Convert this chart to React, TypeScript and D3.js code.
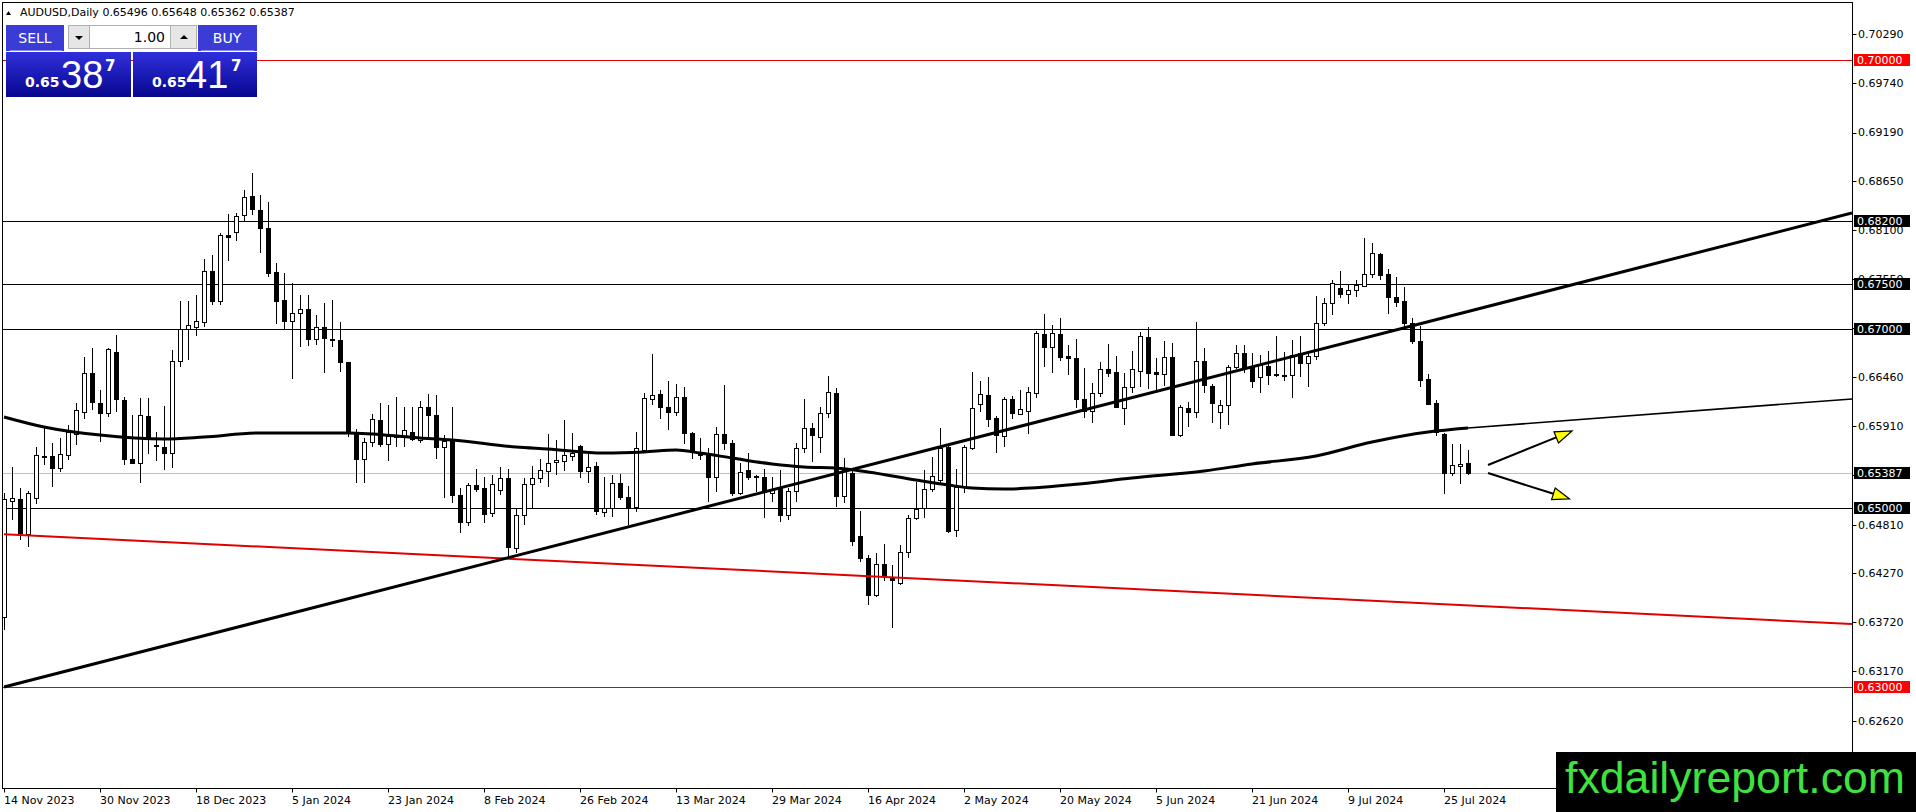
import React from "react";
import { scaleLinear, line, curveMonotoneX } from "d3";

// daily candles, 14 Nov 2023 .. 30 Jul 2024
const opens = [
  0.63782, 0.65071, 0.65093, 0.64706, 0.65104, 0.65575, 0.65577, 0.65439, 0.65585, 0.65823,
  0.66072, 0.665, 0.66173, 0.66061, 0.66735, 0.66202, 0.6554, 0.65503, 0.66024, 0.65696,
  0.65681, 0.65614, 0.66634, 0.66992, 0.67022, 0.67074, 0.67643, 0.67312, 0.6804, 0.68083,
  0.68269, 0.68481, 0.68325, 0.6812, 0.67628, 0.67319, 0.67081, 0.6717, 0.67215, 0.6688,
  0.67014, 0.66888, 0.66873, 0.66623, 0.65849, 0.6554, 0.65737, 0.65979, 0.65711, 0.65804,
  0.65793, 0.65849, 0.65756, 0.6612, 0.66035, 0.65674, 0.65756, 0.65141, 0.64844, 0.65253,
  0.65216, 0.64937, 0.65197, 0.65328, 0.64546, 0.64918, 0.65264, 0.65328, 0.65413, 0.65506,
  0.65525, 0.65581, 0.65689, 0.65413, 0.65465, 0.64955, 0.64992, 0.65279, 0.65115, 0.65011,
  0.65644, 0.6621, 0.6627, 0.66128, 0.66072, 0.66232, 0.65838, 0.65607, 0.65588, 0.65339,
  0.65823, 0.65718, 0.65167, 0.65421, 0.6535, 0.65339, 0.6516, 0.65216, 0.64918, 0.6519,
  0.65662, 0.65886, 0.65793, 0.66054, 0.66284, 0.6513, 0.65391, 0.64684, 0.64434, 0.64024,
  0.64367, 0.64211, 0.64155, 0.64509, 0.64881, 0.64992, 0.65205, 0.65309, 0.65681, 0.6475,
  0.65234, 0.65662, 0.66158, 0.66258, 0.65998, 0.658, 0.6621, 0.66046, 0.66083, 0.66277,
  0.6694, 0.66791, 0.6694, 0.6669, 0.66668, 0.6621, 0.66083, 0.66277, 0.66545, 0.66519,
  0.66109, 0.66344, 0.6653, 0.66902, 0.66519, 0.66493, 0.66679, 0.65812, 0.66109, 0.66072,
  0.66642, 0.66359, 0.66072, 0.66147, 0.66575, 0.66731, 0.66567, 0.66456, 0.66582, 0.66489,
  0.66482, 0.66482, 0.66731, 0.66612, 0.66694, 0.67066, 0.67282, 0.6745, 0.67386, 0.67431,
  0.67476, 0.6761, 0.67833, 0.6761, 0.67349, 0.67312, 0.67066, 0.66865, 0.66433, 0.66165,
  0.65823, 0.65391, 0.65465, 0.65496,
];
const highs = [
  0.6516, 0.65458, 0.65216, 0.65186, 0.65681, 0.65905, 0.65718, 0.65774, 0.65923, 0.66165,
  0.66686, 0.6678, 0.66314, 0.6678, 0.66929, 0.6624, 0.6603, 0.66221, 0.66221, 0.65849,
  0.66135, 0.66761, 0.67312, 0.67312, 0.67375, 0.67774, 0.67822, 0.68071, 0.6828, 0.68295,
  0.68548, 0.68734, 0.68492, 0.68418, 0.67736, 0.67617, 0.67506, 0.67375, 0.67375, 0.67152,
  0.67282, 0.67319, 0.6707, 0.66631, 0.65875, 0.65774, 0.66046, 0.66165, 0.66147, 0.66232,
  0.66128, 0.66128, 0.66195, 0.66266, 0.66258, 0.65812, 0.66128, 0.65223, 0.65279, 0.65428,
  0.65339, 0.65365, 0.6545, 0.65428, 0.64981, 0.65328, 0.65465, 0.6554, 0.65823, 0.65756,
  0.65979, 0.65838, 0.657, 0.65614, 0.65514, 0.65346, 0.65365, 0.65376, 0.65242, 0.65849,
  0.66277, 0.66716, 0.66314, 0.66418, 0.66381, 0.66344, 0.65849, 0.65774, 0.65663, 0.65905,
  0.6637, 0.65756, 0.65495, 0.65614, 0.65365, 0.65428, 0.65346, 0.65421, 0.65216, 0.65718,
  0.6621, 0.65942, 0.66121, 0.6647, 0.66333, 0.65551, 0.65439, 0.64966, 0.64471, 0.6449,
  0.64594, 0.6436, 0.64583, 0.64918, 0.6529, 0.65421, 0.65562, 0.65886, 0.65711, 0.65428,
  0.657, 0.66519, 0.66418, 0.66456, 0.66024, 0.6624, 0.66247, 0.66314, 0.66344, 0.66977,
  0.67163, 0.6704, 0.67115, 0.66817, 0.6688, 0.66556, 0.66389, 0.66631, 0.66828, 0.66694,
  0.665, 0.66753, 0.66966, 0.67021, 0.66668, 0.66865, 0.66843, 0.66147, 0.66184, 0.6707,
  0.6678, 0.66381, 0.66202, 0.66593, 0.66817, 0.66817, 0.66724, 0.66705, 0.66753, 0.66917,
  0.66742, 0.66873, 0.66917, 0.66742, 0.67364, 0.67338, 0.67543, 0.67647, 0.67487, 0.67543,
  0.68008, 0.6796, 0.67848, 0.67662, 0.67573, 0.67461, 0.67115, 0.67029, 0.66493, 0.66203,
  0.6583, 0.65711, 0.65711, 0.65648,
];
const lows = [
  0.63633, 0.64862, 0.64639, 0.64557, 0.65037, 0.65476, 0.65235, 0.65402, 0.65532, 0.657,
  0.65987, 0.66091, 0.65737, 0.66016, 0.66072, 0.65476, 0.65488, 0.65279, 0.65599, 0.65525,
  0.65421, 0.65439, 0.66575, 0.66649, 0.66917, 0.67022, 0.67264, 0.67264, 0.67759, 0.67982,
  0.68205, 0.68269, 0.67841, 0.6758, 0.67048, 0.66992, 0.66433, 0.66798, 0.66806, 0.66817,
  0.665, 0.66798, 0.66519, 0.65793, 0.65272, 0.65279, 0.65681, 0.65681, 0.65525, 0.65681,
  0.65681, 0.65748, 0.65726, 0.65774, 0.6554, 0.65104, 0.65048, 0.64713, 0.64795, 0.65179,
  0.64832, 0.64899, 0.65141, 0.64453, 0.64497, 0.64806, 0.64992, 0.65279, 0.65234, 0.65365,
  0.65413, 0.65525, 0.65328, 0.65279, 0.64918, 0.64892, 0.64892, 0.65086, 0.64806, 0.64955,
  0.65625, 0.66147, 0.65987, 0.65867, 0.66024, 0.65711, 0.6554, 0.65532, 0.65067, 0.65179,
  0.65644, 0.6513, 0.65142, 0.65309, 0.65179, 0.64881, 0.65067, 0.64844, 0.64862, 0.65067,
  0.65614, 0.65514, 0.65614, 0.65998, 0.65011, 0.65048, 0.64572, 0.64397, 0.63913, 0.64006,
  0.64185, 0.63652, 0.64136, 0.64434, 0.64862, 0.64881, 0.65179, 0.65279, 0.64721, 0.64676,
  0.65167, 0.65644, 0.66072, 0.65897, 0.65607, 0.65681, 0.65987, 0.66035, 0.65823, 0.66221,
  0.66567, 0.66508, 0.66642, 0.66482, 0.66109, 0.65998, 0.65949, 0.6624, 0.66456, 0.66109,
  0.65923, 0.66284, 0.66351, 0.66322, 0.66314, 0.66359, 0.658, 0.65785, 0.65905, 0.65998,
  0.66284, 0.65942, 0.65875, 0.65924, 0.66545, 0.665, 0.66333, 0.66284, 0.6637, 0.66456,
  0.66418, 0.66221, 0.66463, 0.66351, 0.66649, 0.67029, 0.67152, 0.67338, 0.67275, 0.67349,
  0.67468, 0.67561, 0.67543, 0.67163, 0.67238, 0.67014, 0.66828, 0.66351, 0.66147, 0.658,
  0.65153, 0.65354, 0.65264, 0.65362,
];
const closes = [
  0.65093, 0.65104, 0.64713, 0.6516, 0.65585, 0.65582, 0.65439, 0.65595, 0.65849, 0.66091,
  0.665, 0.66184, 0.66061, 0.66768, 0.6621, 0.6554, 0.65503, 0.66031, 0.65775, 0.65685,
  0.65614, 0.66638, 0.66992, 0.67036, 0.67081, 0.67643, 0.67312, 0.68042, 0.68026, 0.68258,
  0.68474, 0.68332, 0.6812, 0.67625, 0.67312, 0.67081, 0.6717, 0.67215, 0.6688, 0.67014,
  0.66891, 0.6688, 0.66623, 0.6583, 0.6554, 0.65737, 0.65986, 0.65711, 0.658, 0.65797,
  0.65867, 0.65763, 0.6612, 0.66035, 0.65681, 0.65745, 0.65141, 0.64844, 0.65253, 0.65209,
  0.64926, 0.65264, 0.65328, 0.64557, 0.64918, 0.65264, 0.65328, 0.65421, 0.65503, 0.65532,
  0.65588, 0.65614, 0.65413, 0.65458, 0.64966, 0.64992, 0.65272, 0.65115, 0.65011, 0.65663,
  0.66221, 0.66258, 0.66128, 0.66072, 0.66232, 0.65838, 0.65625, 0.65592, 0.65339, 0.65823,
  0.65718, 0.65167, 0.65402, 0.65346, 0.65342, 0.65179, 0.65197, 0.64918, 0.6519, 0.65662,
  0.65886, 0.65812, 0.66054, 0.66295, 0.6513, 0.65439, 0.64632, 0.64434, 0.64024, 0.64367,
  0.64237, 0.64188, 0.64509, 0.64881, 0.64981, 0.65205, 0.65354, 0.65662, 0.64743, 0.65234,
  0.65674, 0.66109, 0.66266, 0.65987, 0.65812, 0.6621, 0.66054, 0.66098, 0.66296, 0.66954,
  0.66791, 0.66947, 0.66686, 0.66668, 0.6621, 0.66083, 0.66284, 0.66545, 0.665, 0.66121,
  0.66344, 0.66545, 0.66917, 0.66508, 0.66493, 0.66679, 0.65812, 0.66121, 0.66072, 0.66642,
  0.6637, 0.66165, 0.66147, 0.66575, 0.66731, 0.66567, 0.66418, 0.66593, 0.66482, 0.66482,
  0.66474, 0.66705, 0.66612, 0.66694, 0.67066, 0.67282, 0.67506, 0.67386, 0.67431, 0.67487,
  0.6761, 0.67848, 0.67599, 0.67349, 0.67301, 0.67066, 0.66865, 0.66426, 0.66158, 0.65849,
  0.65391, 0.65477, 0.65488, 0.65387,
];

// bottom axis, one label every 12 bars
const dateLabels = [
  "14 Nov 2023", "30 Nov 2023", "18 Dec 2023", "5 Jan 2024", "23 Jan 2024", "8 Feb 2024",
  "26 Feb 2024", "13 Mar 2024", "29 Mar 2024", "16 Apr 2024", "2 May 2024", "20 May 2024",
  "5 Jun 2024", "21 Jun 2024", "9 Jul 2024", "25 Jul 2024",
];
const LABEL_STEP = 12;

const priceTicks = [
  0.7029, 0.6974, 0.6919, 0.6865, 0.681, 0.6755, 0.6701, 0.6646, 0.6591, 0.6536, 0.6481,
  0.6427, 0.6372, 0.6317, 0.6262,
];

// horizontal levels drawn on the chart
const levelPrices = [0.7, 0.682, 0.675, 0.67, 0.65, 0.63];
const levelColors = ["#e00000", "#000", "#000", "#000", "#000", "#e00000"];
const bid = 0.65387;
const ask = 0.65417;

// moving average (bar index, value)
const maIdx = [0, 5, 12, 20, 25, 32, 43, 52, 56, 64, 68, 75, 80, 84, 87, 91, 96, 100, 104, 108, 114, 118, 121, 125, 127, 134, 141, 150, 156, 164, 171, 178, 183];
const maVal = [
  0.66013, 0.65901, 0.65811, 0.65767, 0.65789, 0.65834, 0.65834, 0.65778, 0.65756, 0.65677,
  0.65655, 0.6561, 0.65622, 0.65644, 0.6561, 0.65555, 0.65488, 0.65454, 0.65443, 0.65398,
  0.65309, 0.65253, 0.65219, 0.65208, 0.65213, 0.65261, 0.65331, 0.65409, 0.65488, 0.65577,
  0.65733, 0.65845, 0.6589,
];

// drawn trend lines: [bar index, price] anchors
const trendUp = [[0, 0.62997], [231, 0.68291]];
const trendRed = [[0, 0.64704], [231, 0.637]];
const trendThin = [[183, 0.6589], [231, 0.66214]];
const arrowUp = [[185.5, 0.65476], [196, 0.65856]];
const arrowDown = [[185.5, 0.65387], [195.7, 0.65097]];

const W = 1916;
const H = 812;
const L = 2.5;
const T = 2.5;
const R = 1852.5;
const B = 788.5;
const FONT = "'DejaVu Sans', Verdana, sans-serif";

const xs = scaleLinear().domain([0, 183]).range([4, 1468]);
const ys = scaleLinear().domain([0.63, 0.7]).range([686.7, 60]);

const fmt = (v: number) => v.toFixed(5);

const TrendLine = ({ pts, color, width }: { pts: number[][]; color: string; width: number }) => {
  const [a, b] = pts;
  const x1 = xs(a[0]);
  const y1 = ys(a[1]);
  const x2 = xs(b[0]);
  const y2 = ys(b[1]);
  return <line x1={x1} y1={y1} x2={x2} y2={y2} stroke={color} strokeWidth={width} />;
};

const Arrow = ({ pts }: { pts: number[][] }) => {
  const [a, b] = pts;
  const x1 = xs(a[0]);
  const y1 = ys(a[1]);
  const x2 = xs(b[0]);
  const y2 = ys(b[1]);
  const ang = Math.atan2(y2 - y1, x2 - x1);
  const len = 17;
  const half = 6;
  const bx = x2 - len * Math.cos(ang);
  const by = y2 - len * Math.sin(ang);
  const px = -Math.sin(ang) * half;
  const py = Math.cos(ang) * half;
  return (
    <g>
      <line x1={x1} y1={y1} x2={bx} y2={by} stroke="#000" strokeWidth={2} />
      <polygon
        points={`${x2},${y2} ${bx + px},${by + py} ${bx - px},${by - py}`}
        fill="#ffff00"
        stroke="#000"
        strokeWidth={1.2}
      />
    </g>
  );
};

const TradePanel = () => {
  const sell = fmt(bid);
  const buy = fmt(ask);
  const parts = (s: string) => [s.slice(0, 4), s.slice(4, 6), s.slice(6)];
  const [s1, s2, s3] = parts(sell);
  const [b1, b2, b3] = parts(buy);
  return (
    <g fontFamily={FONT}>
      <defs>
        <linearGradient id="btn" x1="0" y1="0" x2="0" y2="1">
          <stop offset="0" stopColor="#3030dc" />
          <stop offset="1" stopColor="#06068e" />
        </linearGradient>
      </defs>
      <rect x={6} y={25} width={58} height={26} fill="#3b3bd6" />
      <line x1={10} x2={62} y1={50.5} y2={50.5} stroke="#8a8ae8" />
      <text x={35} y={43} fill="#fff" fontSize={14} textAnchor="middle">SELL</text>
      <rect x={68.5} y={25.5} width={21} height={23} fill="#e6e6e6" stroke="#b0b0b0" />
      <polygon points="75,36 83,36 79,40" fill="#000" />
      <rect x={89.5} y={25.5} width={81} height={23} fill="#fff" stroke="#b0b0b0" />
      <text x={165} y={42} fontSize={14} textAnchor="end" fill="#000">1.00</text>
      <rect x={170.5} y={25.5} width={26} height={23} fill="#e6e6e6" stroke="#b0b0b0" />
      <polygon points="180,39 188,39 184,35" fill="#000" />
      <rect x={198} y={25} width={59} height={26} fill="#3b3bd6" />
      <line x1={201} x2={254} y1={50.5} y2={50.5} stroke="#8a8ae8" />
      <text x={227} y={43} fill="#fff" fontSize={14} textAnchor="middle">BUY</text>

      <rect x={6} y={52} width={125} height={45} fill="url(#btn)" />
      <rect x={133} y={52} width={124} height={45} fill="url(#btn)" />
      <text x={25} y={87} fill="#fff" fontSize={14} fontWeight="bold">{s1}</text>
      <text x={61} y={88} fill="#fff" fontSize={38} fontFamily="'Liberation Sans', Arial, sans-serif">{s2}</text>
      <text x={105} y={71} fill="#fff" fontSize={15} fontWeight="bold">{s3}</text>
      <text x={152} y={87} fill="#fff" fontSize={14} fontWeight="bold">{b1}</text>
      <text x={186} y={88} fill="#fff" fontSize={38} fontFamily="'Liberation Sans', Arial, sans-serif">{b2}</text>
      <text x={231} y={71} fill="#fff" fontSize={15} fontWeight="bold">{b3}</text>
    </g>
  );
};

const App = () => {
  const last = opens.length - 1;
  const maLine = line<number>()
    .x((_, i) => xs(maIdx[i]))
    .y((v) => ys(v))
    .curve(curveMonotoneX);
  const labelled = [bid, ...levelPrices];
  const labelColor = (p: number) => (p === 0.7 || p === 0.63 ? "#ff0000" : "#000");

  return (
    <svg
      width={W}
      height={H}
      style={{ position: "absolute", left: 0, top: 0, display: "block", background: "#fff" }}
    >
      <defs>
        <clipPath id="plot">
          <rect x={L + 0.5} y={T + 0.5} width={R - L - 1} height={B - T - 1} />
        </clipPath>
      </defs>
      <rect width={W} height={H} fill="#fff" />

      <g clipPath="url(#plot)">
        {/* levels */}
        <line x1={L} x2={R} y1={Math.round(ys(bid)) + 0.5} y2={Math.round(ys(bid)) + 0.5} stroke="#c0c0c0" />
        {levelPrices.map((p, i) => (
          <line
            key={p}
            x1={L}
            x2={R}
            y1={Math.round(ys(p)) + 0.5}
            y2={Math.round(ys(p)) + 0.5}
            stroke={levelColors[i]}
          />
        ))}

        {/* candles */}
        <g shapeRendering="crispEdges">
          {opens.map((o, i) => {
            const c = closes[i];
            const cx = Math.round(xs(i));
            const top = Math.round(ys(Math.max(o, c)));
            const bot = Math.round(ys(Math.min(o, c)));
            return (
              <g key={i}>
                <line x1={cx + 0.5} x2={cx + 0.5} y1={ys(highs[i])} y2={ys(lows[i])} stroke="#000" />
                <rect
                  x={cx - 1.5}
                  y={top + 0.5}
                  width={4}
                  height={Math.max(1, bot - top)}
                  fill={c >= o ? "#fff" : "#000"}
                  stroke="#000"
                />
              </g>
            );
          })}
        </g>

        {/* indicator and drawings */}
        <path d={maLine(maVal) || ""} fill="none" stroke="#000" strokeWidth={3} />
        <TrendLine pts={trendRed} color="#e00000" width={2} />
        <TrendLine pts={trendUp} color="#000" width={3} />
        <TrendLine pts={trendThin} color="#000" width={1.6} />
        <Arrow pts={arrowUp} />
        <Arrow pts={arrowDown} />
      </g>

      {/* frame */}
      <rect x={L} y={T} width={R - L} height={B - T} fill="none" stroke="#000" />

      {/* price axis */}
      <g fontFamily={FONT} fontSize={11}>
        {priceTicks.map((p) => (
          <g key={p}>
            <line x1={R} x2={R + 4} y1={Math.round(ys(p)) + 0.5} y2={Math.round(ys(p)) + 0.5} stroke="#000" />
            <text x={1858} y={ys(p)} dy="0.36em" fill="#000">{fmt(p)}</text>
          </g>
        ))}
        {labelled.map((p) => (
          <g key={"l" + p}>
            <rect x={1854} y={Math.round(ys(p)) - 6} width={56} height={12} fill={labelColor(p)} />
            <text x={1857} y={ys(p)} dy="0.36em" fill="#fff">{fmt(p)}</text>
          </g>
        ))}
      </g>

      {/* time axis */}
      <g fontFamily={FONT} fontSize={11}>
        {dateLabels.map((d, k) => {
          const cx = Math.round(xs(k * LABEL_STEP));
          return (
            <g key={d}>
              <line x1={cx + 0.5} x2={cx + 0.5} y1={B} y2={B + 4} stroke="#000" />
              <text x={cx} y={804} fill="#000">{d}</text>
            </g>
          );
        })}
      </g>

      {/* header */}
      <polygon points="6,15 11,15 8.5,11" fill="#000" />
      <text x={20} y={16} fontFamily={FONT} fontSize={11} fill="#000">
        {`AUDUSD,Daily  ${fmt(opens[last])} ${fmt(highs[last])} ${fmt(lows[last])} ${fmt(closes[last])}`}
      </text>

      <TradePanel />

      {/* watermark */}
      <rect x={1556} y={752} width={W - 1556} height={H - 752} fill="#000" />
      <text
        x={1565}
        y={793}
        fontFamily="'Liberation Sans Narrow', 'Arial Narrow', 'Liberation Sans', sans-serif"
        fontSize={44}
        fill="#3fe23f"
        textLength={340}
        lengthAdjust="spacingAndGlyphs"
      >
        fxdailyreport.com
      </text>
    </svg>
  );
};

export default App;
